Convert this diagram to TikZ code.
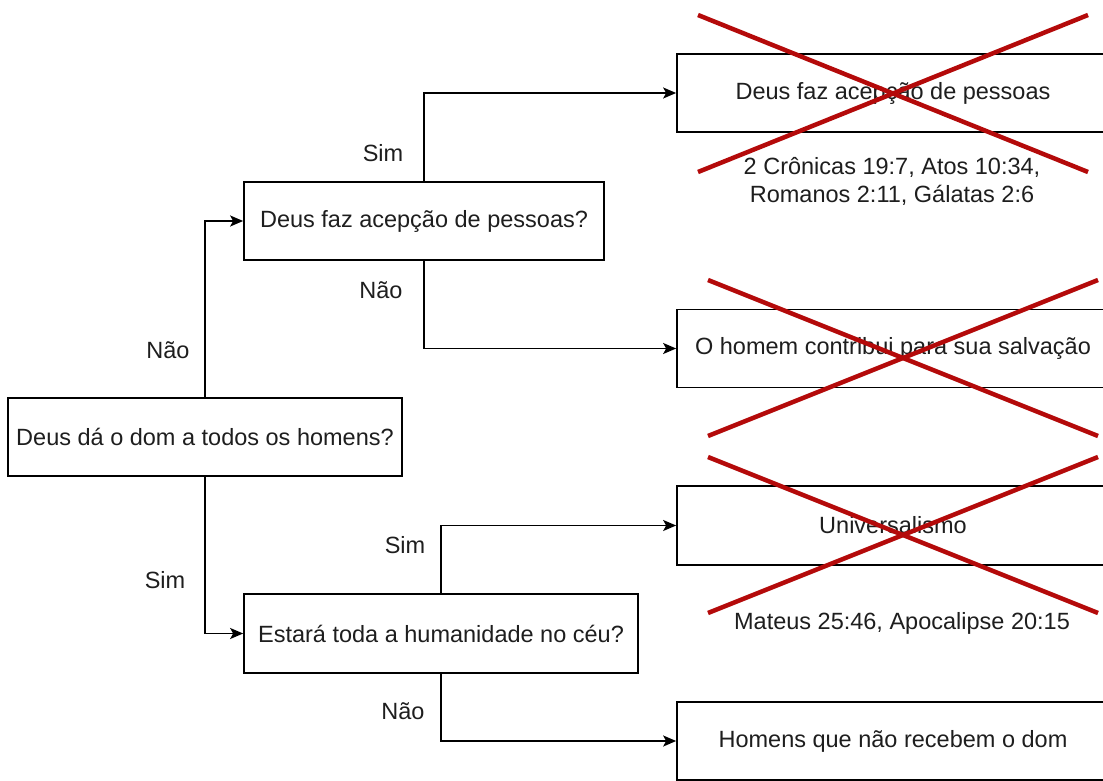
\documentclass[tikz,border=0pt]{standalone}
\usepackage{fontspec}
\setmainfont{Liberation Sans}
\usetikzlibrary{arrows.meta}
\definecolor{xred}{HTML}{B40A0A}
\definecolor{txt}{HTML}{1E1E1E}
\begin{document}
\begin{tikzpicture}[x=1pt,y=-1pt,
  box/.style={draw=black, line width=1.7pt, inner sep=0pt, text=txt, font=\fontsize{23.5}{28}\selectfont},
  lbl/.style={text=txt, inner sep=0pt, font=\fontsize{23.5}{28}\selectfont},
  arr/.style={line width=1.7pt, -{Stealth[length=13pt,width=11pt,inset=3pt]}},
  xmark/.style={draw=xred, line width=4.5pt}]
\path[use as bounding box, clip] (0,0) rectangle (1103,780);
\fill[white] (0,0) rectangle (1103,780);
% boxes
\node[box, minimum width=394pt, minimum height=78pt] (A) at (205,437) {Deus dá o dom a todos os homens?};
\node[box, minimum width=360pt, minimum height=78pt] (B) at (424,221) {Deus faz acepção de pessoas?};
\node[box, minimum width=394pt, minimum height=79pt] (D) at (441,633.5) {Estará toda a humanidade no céu?};
\node[box, minimum width=432pt, minimum height=78pt] (C1) at (893,93) {Deus faz acepção de pessoas};
\node[box, minimum width=432pt, minimum height=78pt] (C2) at (893,348.5) {O homem contribui para sua salvação};
\node[box, minimum width=432pt, minimum height=79pt] (C3) at (893,525.5) {Universalismo};
\node[box, minimum width=432pt, minimum height=78pt] (C4) at (893,741) {Homens que não recebem o dom};
% connectors
\draw[arr] (A.north) |- (B.west);
\draw[arr] (A.south) |- (D.west);
\draw[arr] (B.north) |- (C1.west);
\draw[arr] (B.south) |- (C2.west);
\draw[arr] (D.north) |- (C3.west);
\draw[arr] (D.south) |- (C4.west);
% labels
\node[lbl] (lN0) at (168,350) {Não};
\node[lbl] (lS0) at (165,580) {Sim};
\node[lbl] (lS1) at (383,153) {Sim};
\node[lbl] (lN1) at (381,290) {Não};
\node[lbl] (lS2) at (405,545) {Sim};
\node[lbl] (lN2) at (403,711) {Não};
\node[lbl, align=center] (r1) at (892,181) {2 Crônicas 19:7, Atos 10:34,\\Romanos 2:11, Gálatas 2:6};
\node[lbl] (r2) at (902,623) {Mateus 25:46, Apocalipse 20:15};
% red crosses
\draw[xmark] (698,15) -- (1088,172);
\draw[xmark] (698,172) -- (1088,15);
\draw[xmark] (708,280) -- (1098,436);
\draw[xmark] (708,436) -- (1098,280);
\draw[xmark] (708,457) -- (1098,613);
\draw[xmark] (708,613) -- (1098,457);
\end{tikzpicture}
\end{document}
